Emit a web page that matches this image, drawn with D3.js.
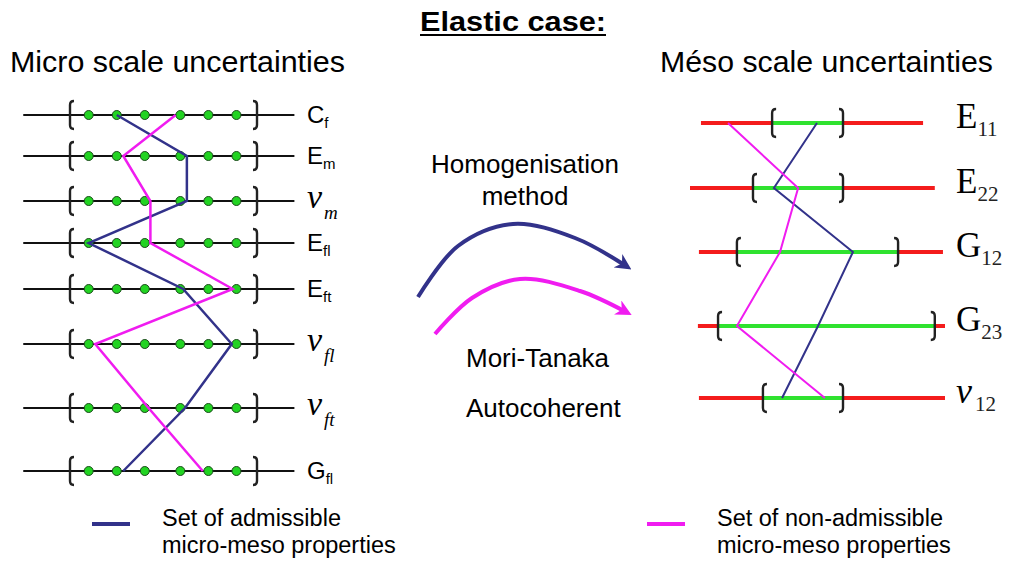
<!DOCTYPE html>
<html>
<head>
<meta charset="utf-8">
<script src="https://cdn.jsdelivr.net/npm/d3@7"></script>
<style>
  body { margin: 0; background: #fff; }
  svg { font-family: "Liberation Sans", Arial, sans-serif; }
</style>
</head>
<body>
<div id="chart"></div>
<script>
// micro scale parameters (left panel)
var microMain = ["C", "E", "\u03bd", "E", "E", "\u03bd", "\u03bd", "G"];
var microSub = ["f", "m", "m", "fl", "ft", "fl", "ft", "fl"];
// sample points inside each interval (0 = left bracket, 100 = right bracket)
var microSamples = [10, 25, 40, 59, 74, 89];
var microAdmissible = [25, 62.5, 62.5, 10, 60.5, 86.5, 61.5, 28.5];
var microNonAdmissible = [56.5, 28.5, 43, 43, 87, 13.5, 42, 71];

// meso scale parameters (right panel)
var mesoMain = ["E", "E", "G", "G", "\u03bd"];
var mesoSub = ["11", "22", "12", "23", "12"];
var mesoRangeLo = [4.3, 0, 3.5, 3.1, 3.5];
var mesoRangeHi = [91.4, 96, 99.2, 100, 100];
var mesoIntLo = [32.2, 24.7, 18.4, 11, 28.6];
var mesoIntHi = [60, 60, 81.6, 96, 60];
var mesoAdmissible = [49.8, 32.9, 63.9, 50.2, 36.1];
var mesoNonAdmissible = [14.9, 42.4, 35.3, 18.4, 52.9];

var methods = ["Mori-Tanaka", "Autocoherent"];

var W = 1013, H = 564;
var blue = "#32328a", pink = "#f01cf0", green = "#2fe22f", red = "#f41c1c";
var serif = "'Liberation Serif', 'Times New Roman', serif";

var svg = d3.select("#chart").append("svg")
    .attr("width", W)
    .attr("height", H);

// titles
svg.append("text")
    .attr("x", 513).attr("y", 31)
    .attr("text-anchor", "middle")
    .attr("font-weight", "bold")
    .attr("font-size", 27)
    .attr("textLength", 186).attr("lengthAdjust", "spacingAndGlyphs")
    .text("Elastic case:");
svg.append("line")
    .attr("x1", 420).attr("x2", 606)
    .attr("y1", 35).attr("y2", 35)
    .attr("stroke", "#000").attr("stroke-width", 2);

svg.append("text")
    .attr("x", 10).attr("y", 72)
    .attr("font-size", 29)
    .attr("textLength", 335).attr("lengthAdjust", "spacingAndGlyphs")
    .text("Micro scale uncertainties");
svg.append("text")
    .attr("x", 660).attr("y", 72)
    .attr("font-size", 29)
    .attr("textLength", 333).attr("lengthAdjust", "spacingAndGlyphs")
    .text("Méso scale uncertainties");

function bracket(g, x, y, dir, h) {
    var p = d3.path();
    p.moveTo(x + dir * 4, y - h);
    p.quadraticCurveTo(x, y - h, x, y - h + 4);
    p.lineTo(x, y + h - 4);
    p.quadraticCurveTo(x, y + h, x + dir * 4, y + h);
    g.append("path").attr("d", p.toString())
        .attr("fill", "none").attr("stroke", "#222").attr("stroke-width", 2.4);
}

// ---- left panel ----
var xMicro = d3.scaleLinear().domain([0, 100]).range([70, 257]);
var yMicro = d3.scaleOrdinal()
    .domain(d3.range(microMain.length))
    .range([115, 156, 201, 243, 289, 344, 408, 471]);

var left = svg.append("g");
microMain.forEach(function(m, i) {
    var y = yMicro(i);
    left.append("line")
        .attr("x1", xMicro(-25)).attr("x2", xMicro(120))
        .attr("y1", y).attr("y2", y)
        .attr("stroke", "#111").attr("stroke-width", 2);
    bracket(left, xMicro(0), y, 1, 14);
    bracket(left, xMicro(100), y, -1, 14);
    left.selectAll(null).data(microSamples).enter()
        .append("circle")
        .attr("cx", function(d) { return xMicro(d); })
        .attr("cy", y)
        .attr("r", 4.5)
        .attr("fill", "#22d322")
        .attr("stroke", "#1c4a1c").attr("stroke-width", 1);

    var greek = m === "\u03bd";
    var t = left.append("text")
        .attr("x", 307).attr("y", y + (greek ? 7 : 8));
    t.append("tspan")
        .style("font-family", greek ? serif : null)
        .style("font-style", greek ? "italic" : null)
        .style("font-size", greek ? "34px" : "24px")
        .text(m);
    t.append("tspan")
        .attr("dy", greek ? 11 : 5)
        .attr("dx", greek ? 2 : 0)
        .style("font-family", greek ? serif : null)
        .style("font-style", greek ? "italic" : null)
        .style("font-size", greek ? "19px" : "15px")
        .text(microSub[i]);
});

var microLine = d3.line()
    .x(function(d) { return xMicro(d); })
    .y(function(d, i) { return yMicro(i); });

left.append("path").attr("d", microLine(microAdmissible))
    .attr("fill", "none").attr("stroke", blue).attr("stroke-width", 2.5);
left.append("path").attr("d", microLine(microNonAdmissible))
    .attr("fill", "none").attr("stroke", pink).attr("stroke-width", 2.5);

// ---- right panel ----
var xMeso = d3.scaleLinear().domain([0, 100]).range([690, 945]);
var yMeso = d3.scaleOrdinal()
    .domain(d3.range(mesoMain.length))
    .range([123, 188, 252, 326, 398]);

var right = svg.append("g");
mesoMain.forEach(function(m, i) {
    var y = yMeso(i);
    right.append("line")
        .attr("x1", xMeso(mesoRangeLo[i])).attr("x2", xMeso(mesoRangeHi[i]))
        .attr("y1", y).attr("y2", y)
        .attr("stroke", red).attr("stroke-width", 4);
    right.append("line")
        .attr("x1", xMeso(mesoIntLo[i])).attr("x2", xMeso(mesoIntHi[i]))
        .attr("y1", y).attr("y2", y)
        .attr("stroke", green).attr("stroke-width", 4);
    bracket(right, xMeso(mesoIntLo[i]), y, 1, 14);
    bracket(right, xMeso(mesoIntHi[i]), y, -1, 14);

    var greek = m === "\u03bd";
    var t = right.append("text")
        .attr("x", 956).attr("y", y + 5)
        .style("font-family", serif);
    t.append("tspan")
        .style("font-style", greek ? "italic" : null)
        .style("font-size", greek ? "36px" : "35px")
        .text(m);
    t.append("tspan")
        .attr("dy", 8)
        .attr("dx", greek ? 3 : 0)
        .style("font-size", "21px")
        .attr("fill", "#222")
        .text(mesoSub[i]);
});

var mesoLine = d3.line()
    .x(function(d) { return xMeso(d); })
    .y(function(d, i) { return yMeso(i); });

right.append("path").attr("d", mesoLine(mesoAdmissible))
    .attr("fill", "none").attr("stroke", blue).attr("stroke-width", 2);
right.append("path").attr("d", mesoLine(mesoNonAdmissible))
    .attr("fill", "none").attr("stroke", pink).attr("stroke-width", 2);

// ---- middle: homogenisation arrows ----
var defs = svg.append("defs");
[["blueHead", blue], ["pinkHead", pink]].forEach(function(a) {
    defs.append("marker")
        .attr("id", a[0])
        .attr("viewBox", "0 0 10 10")
        .attr("refX", 6).attr("refY", 5)
        .attr("markerWidth", 4).attr("markerHeight", 4)
        .attr("orient", "auto")
        .append("path")
        .attr("d", "M0,0 L10,5 L0,10 L3,5 Z")
        .attr("fill", a[1]);
});

svg.append("text").attr("x", 525).attr("y", 173)
    .attr("text-anchor", "middle").attr("font-size", 26)
    .text("Homogenisation");
svg.append("text").attr("x", 525).attr("y", 205)
    .attr("text-anchor", "middle").attr("font-size", 26)
    .text("method");

var curve = d3.line().curve(d3.curveCatmullRom);
svg.append("path")
    .attr("d", curve([[418, 297], [458, 246], [513, 224], [575, 238], [626, 266]]))
    .attr("fill", "none").attr("stroke", blue).attr("stroke-width", 4)
    .attr("marker-end", "url(#blueHead)");
svg.append("path")
    .attr("d", curve([[435, 334], [472, 298], [520, 279], [580, 291], [626, 312]]))
    .attr("fill", "none").attr("stroke", pink).attr("stroke-width", 4)
    .attr("marker-end", "url(#pinkHead)");

svg.selectAll(".method").data(methods).enter()
    .append("text")
    .attr("class", "method")
    .attr("x", 466)
    .attr("y", function(d, i) { return 367 + i * 50; })
    .attr("font-size", 26)
    .text(function(d) { return d; });

// ---- legend ----
var legend = [
    { color: blue, x: 92, lines: ["Set of admissible", "micro-meso properties"] },
    { color: pink, x: 647, lines: ["Set of non-admissible", "micro-meso properties"] }
];
legend.forEach(function(l) {
    svg.append("line")
        .attr("x1", l.x).attr("x2", l.x + 38)
        .attr("y1", 524).attr("y2", 524)
        .attr("stroke", l.color).attr("stroke-width", 4);
    l.lines.forEach(function(s, i) {
        svg.append("text")
            .attr("x", l.x + 70).attr("y", 526 + i * 27)
            .attr("font-size", 23.5)
            .text(s);
    });
});
</script>
</body>
</html>
